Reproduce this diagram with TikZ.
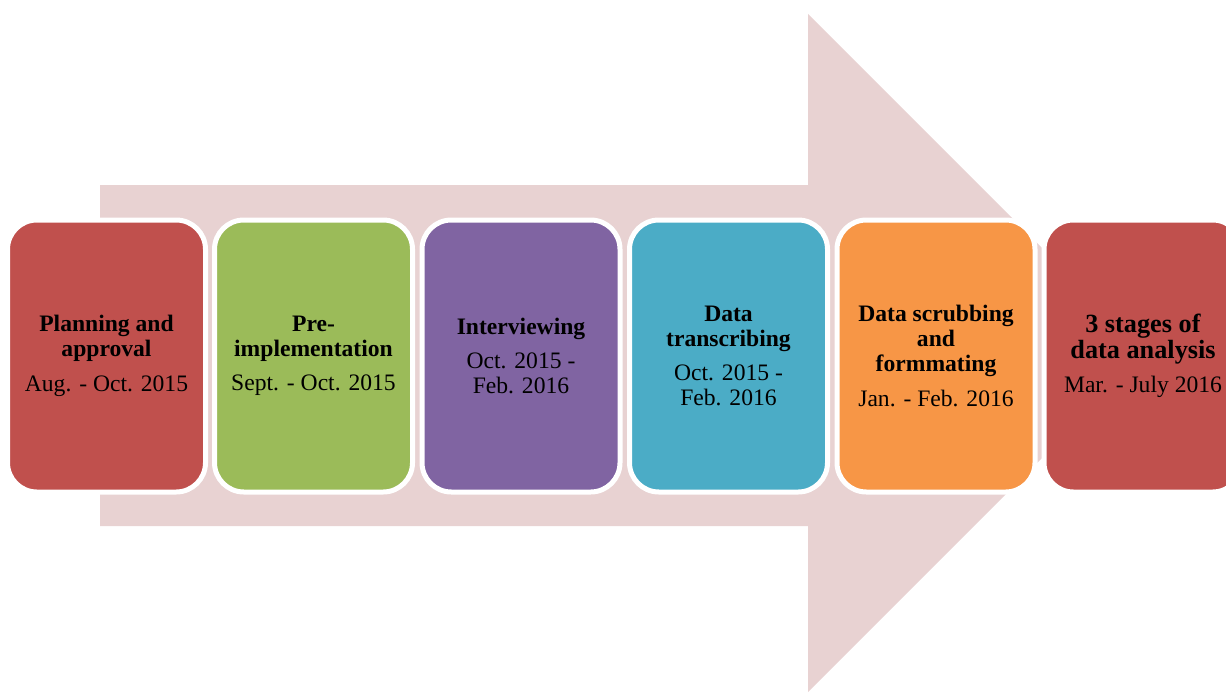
\documentclass[tikz,border=0pt]{standalone}
\usepackage{fontspec}
\setmainfont{Liberation Serif}
\usepackage{xcolor}
\usepackage{tikz}
\usetikzlibrary{calc}

\definecolor{arrowpink}{HTML}{E8D2D2}
\definecolor{phasered}{HTML}{C0504D}
\definecolor{phasegreen}{HTML}{9BBB59}
\definecolor{phasepurple}{HTML}{8064A2}
\definecolor{phaseteal}{HTML}{4BACC6}
\definecolor{phaseorange}{HTML}{F79646}

\begin{document}
\begin{tikzpicture}[x=0.75pt, y=-0.75pt, line join=round,
  phase/.style={rectangle, rounded corners=22pt, draw=white, line width=3.75pt,
    minimum width=148.5pt, minimum height=204pt, inner sep=0pt,
    align=center, text=black, font=\fontsize{17.7}{18.8}\selectfont}]
  \useasboundingbox (0,0) rectangle (1226,692);
  \clip (0,0) rectangle (1226,692);
  \coordinate (S1) at (100,185);
  \coordinate (S2) at (808,185);
  \coordinate (H1) at (808,14);
  \coordinate (T) at (1147,353);
  \coordinate (H2) at (808,692);
  \coordinate (S3) at (808,526);
  \coordinate (S4) at (100,526);
  \fill[arrowpink] (S1) -- (S2) -- (H1) -- (T) -- (H2) -- (S3) -- (S4) -- cycle;
  \node[phase,fill=phasered] (plan) at (106.5,356)
    {\textbf{Planning and}\\\textbf{approval}\\[7pt]Aug. - Oct. 2015};
  \node[phase,fill=phasegreen] (preimp) at (313.5,356)
    {\textbf{Pre-}\\\textbf{implementation}\\[7pt]Sept. - Oct. 2015};
  \node[phase,fill=phasepurple] (interv) at (521,356)
    {\textbf{Interviewing}\\[7pt]Oct. 2015 -\\Feb. 2016};
  \node[phase,fill=phaseteal] (transc) at (728.5,356)
    {\textbf{Data}\\\textbf{transcribing}\\[7pt]Oct. 2015 -\\Feb. 2016};
  \node[phase,fill=phaseorange] (scrub) at (936,356)
    {\textbf{Data scrubbing}\\\textbf{and}\\\textbf{formmating}\\[7pt]Jan. - Feb. 2016};
  \node[phase,fill=phasered] (analysis) at (1143,356)
    {\fontsize{19.7}{20.3}\selectfont\textbf{3 stages of}\\\fontsize{19.7}{20.3}\selectfont\textbf{data analysis}\\[7pt]Mar. - July 2016};
\end{tikzpicture}
\end{document}
